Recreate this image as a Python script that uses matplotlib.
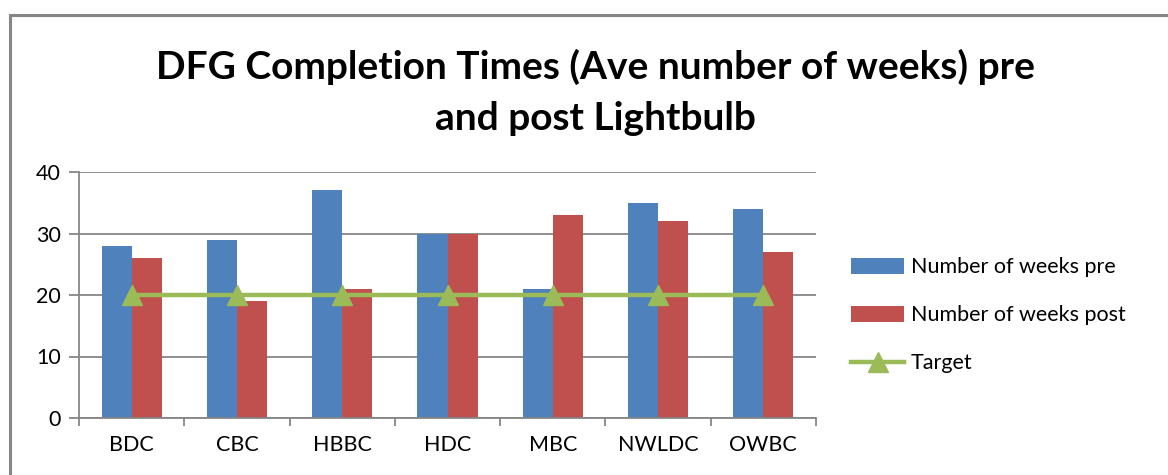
import matplotlib.pyplot as plt
from matplotlib.patches import Rectangle
import numpy as np

plt.rcParams['font.family'] = ['Lato', 'DejaVu Sans']

# data
centres = ['BDC', 'CBC', 'HBBC', 'HDC', 'MBC', 'NWLDC', 'OWBC']
weeks_pre = [28, 29, 37, 30, 21, 35, 34]
weeks_post = [26, 19, 21, 30, 33, 32, 27]
target = [20, 20, 20, 20, 20, 20, 20]

blue = '#4F81BD'
red = '#C0504D'
green = '#9BBB59'
grey = '#868686'

fig = plt.figure(figsize=(11.68, 4.75), dpi=100)
# outer chart frame (left and top edges visible)
fig.patches.append(Rectangle((10/1168, -0.1), 1.2, 1 - 15/475 + 0.1,
                             transform=fig.transFigure, fill=False,
                             edgecolor=grey, lw=2.2))

ax = fig.add_axes([79/1168, 57/475, 737/1168, 246/475])
x = np.arange(len(centres))
w = 1/3.5
b1 = ax.bar(x - w/2, weeks_pre, w, color=blue, label='Number of weeks pre', zorder=2)
b2 = ax.bar(x + w/2, weeks_post, w, color=red, label='Number of weeks post', zorder=2)
ln, = ax.plot(x, target, color=green, lw=3.2, marker='^', ms=14, label='Target', zorder=3)

ax.set_xlim(-0.5, len(centres) - 0.5)
ax.set_ylim(0, 40)
ax.set_yticks([0, 10, 20, 30, 40])
ax.yaxis.grid(True, color=grey, lw=1.3, zorder=0)
ax.set_axisbelow(True)
ax.set_xticks(x)
ax.set_xticklabels(centres, fontsize=15.5)
ax.set_xticks(np.arange(-0.5, len(centres)), minor=True)
ax.tick_params(axis='x', which='major', length=0, pad=12)
ax.tick_params(axis='x', which='minor', length=6, width=1.3, color=grey, direction='out')
ax.tick_params(axis='y', length=7, width=1.3, color=grey, labelsize=15.5, pad=6)
for s in ['top', 'right']:
    ax.spines[s].set_visible(False)
for s in ['left', 'bottom']:
    ax.spines[s].set_color(grey)
    ax.spines[s].set_linewidth(1.3)

fig.text(595/1168, 1 - 92/475, 'DFG Completion Times (Ave number of weeks) pre\nand post Lightbulb',
         ha='center', va='center', fontsize=28, fontweight='bold', linespacing=1.55)

ax.legend([b1, b2, ln], ['Number of weeks pre', 'Number of weeks post', 'Target'],
          loc='upper left', bbox_to_anchor=(832/1168, 1 - 238/475),
          bbox_transform=fig.transFigure, frameon=False, fontsize=15.5,
          handlelength=2.45, handleheight=0.75, handletextpad=0.3, labelspacing=1.3)

plt.savefig('out.png', dpi=100)
